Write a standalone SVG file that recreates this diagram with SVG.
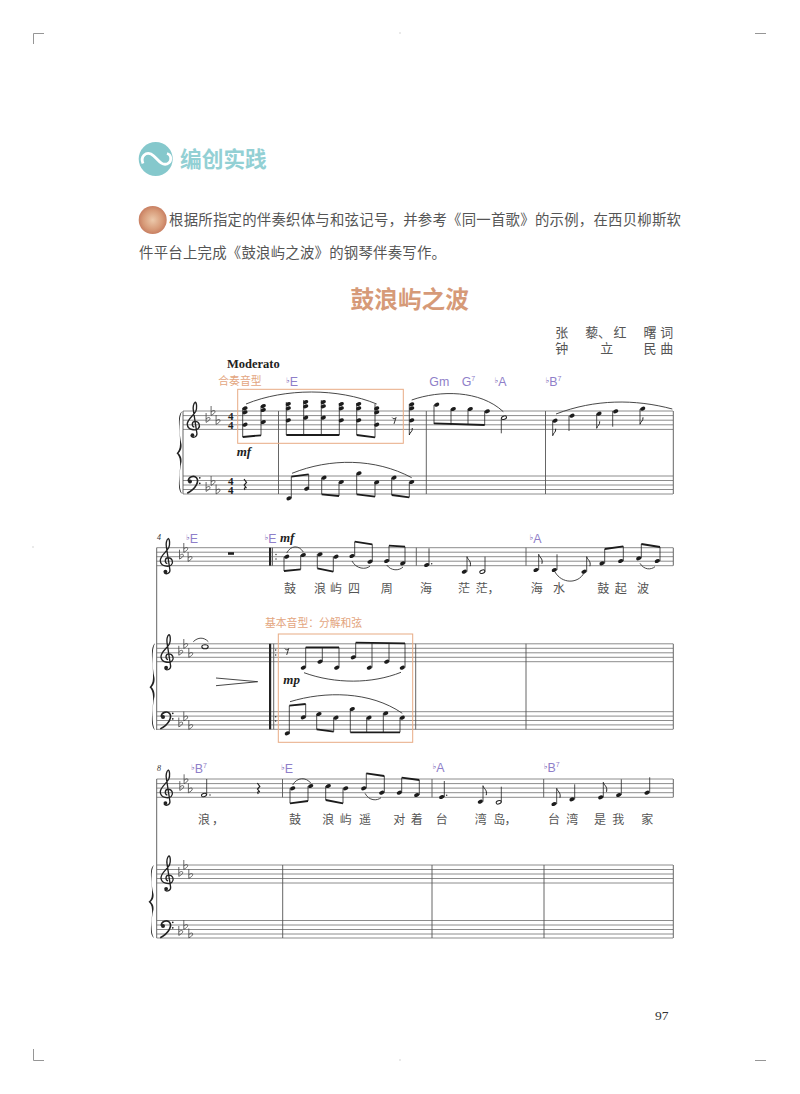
<svg xmlns="http://www.w3.org/2000/svg" width="800" height="1094" viewBox="0 0 800 1094">
<style>
.st{fill:none;stroke:#6e6e6e;stroke-width:.8}
.bar{fill:none;stroke:#555;stroke-width:.9}
.stem{fill:none;stroke:#222;stroke-width:.8}
.beam{fill:none;stroke:#1c1c1c;stroke-width:1.8}
.slur{fill:none;stroke:#333;stroke-width:.9}
.flag{fill:none;stroke:#222;stroke-width:1}
.box{fill:none;stroke:#e8ab84;stroke-width:1}
.crop{fill:none;stroke:#8a8a8a;stroke-width:.9}
.cjk{font-family:"Noto Sans CJK SC",sans-serif}
.lyr{font-family:"Noto Sans CJK SC",sans-serif;font-size:12px;fill:#555}
.lab{font-family:"Noto Sans CJK SC",sans-serif;font-size:10.8px;fill:#e3a57e}
.ch{font-family:"Liberation Sans",sans-serif;font-size:12.4px;fill:#8f7fc9}
.fl{font-family:"DejaVu Sans",sans-serif;font-size:8px;font-weight:bold;fill:#5f4aa8}
.sup{font-size:7px}
.dyn{font-family:"Liberation Serif",serif;font-weight:bold;font-style:italic;font-size:13px;fill:#222}
.ts{font-family:"Liberation Serif",serif;font-weight:bold;font-size:11px;fill:#222;text-anchor:middle}
.num{font-family:"Liberation Serif",serif;font-style:italic;font-size:8px;fill:#333}
</style>
<defs>
<radialGradient id="ball"><stop offset="0" stop-color="#ecc9ab"/><stop offset=".7" stop-color="#d79a78"/><stop offset="1" stop-color="#c87f62"/></radialGradient>
<ellipse id="n" rx="2.7" ry="1.9" transform="rotate(-20)" fill="#1c1c1c"/>
<ellipse id="h" rx="2.6" ry="1.6" transform="rotate(-20)" fill="#fff" stroke="#222" stroke-width="1"/>
<path id="fu" class="flag" d="M0 0C.5 3 4.600 4 3.200 9.500"/>
<path id="fd" class="flag" d="M0 0C.5-3 3.400-3 3-7"/>
<path id="fl" d="M-1.200-7V2.400C1 1.100 2.700 0 2.700-1.400 2.700-3.100.4-2.700-1.200-1" fill="none" stroke="#444" stroke-width=".8"/>
<g id="tc"><g transform="scale(1.12 1.08)"><path d="M.3 2.200C-2.400 1.400-2-3.200 1-3.200 4.600-3.200 6 1 3.800 3.400 1.600 5.600-5.600 5-6-.4-6.200-5-.4-8.400 1.600-12.600 2.800-15.400 2.400-20.600 1.200-21-.6-20-1-16-.6-13.600L2.600 8C3 11-1 13-2.600 10.400" fill="none" stroke="#222" stroke-width="1.200"/><circle cx="-1.400" cy="9.600" r="1.700" fill="#222"/></g></g>
<g id="bc"><g transform="scale(1.25)"><path d="M-4.600.6C-4.600-3.200 0-4.200 2-2.200 4.200.4 2 6.400-5.400 10.200" fill="none" stroke="#222" stroke-width="1.300"/><circle cx="-3.200" cy=".8" r="1.600" fill="#222"/><circle cx="4.600" cy="-2.200" r=".7" fill="#222"/><circle cx="4.600" cy="2.200" r=".7" fill="#222"/></g></g>
<path id="r8" d="M-1.800-3.200C-1-1.400 1-1.400 2-3.200L0 3.200" fill="none" stroke="#222" stroke-width=".9"/>
<path id="r4" d="M-1-6 1.500-2.500-.8 0 1.500 3C0 2-1.500 3 0 5" fill="none" stroke="#222" stroke-width="1.200"/>
<path id="br" d="M5 0C-1 5 4 24 3 36 3 41 1 44-.5 45.500 1 47 3 50 3 55 4 66-1 85 5 90 1.500 84 2 67 4.500 55 5 50 3 47 1.500 45.500 3 44 5 41 4.500 36 2 24 1.500 6 5 0Z" fill="#222"/>
</defs>

<g id="crop-marks">
<path class="crop" d="M44 33.500H33.500V44M755 33.500H766M33.500 1049V1060.500H44M755 1060.500H766"/>
<path class="crop" opacity=".4" d="M400 32V34M33 546V548M400 1059V1061"/>
</g>

<g id="heading">
<circle cx="155.700" cy="159" r="17" fill="#85c8cc"/>
<path d="M143 163.500C140 156 146 152 151 154 157 157 160 166 167 164 172 162 172 155 167 153.500" fill="none" stroke="#fff" stroke-width="2.800"/>
<text class="cjk" x="180" y="167" font-size="21.700" font-weight="700" fill="#93d0d4">编创实践</text>
</g>

<g id="instructions">
<circle cx="152.700" cy="220" r="14" fill="url(#ball)"/>
<text class="cjk" x="169" y="225" font-size="14.400" fill="#555" textLength="512" lengthAdjust="spacing">根据所指定的伴奏织体与和弦记号，并参考《同一首歌》的示例，在西贝柳斯软</text>
<text class="cjk" x="139" y="258" font-size="14.400" fill="#555" textLength="307" lengthAdjust="spacing">件平台上完成《鼓浪屿之波》的钢琴伴奏写作。</text>
</g>

<g id="title">
<text class="cjk" x="350.500" y="307.500" font-size="23.700" font-weight="700" fill="#d69a78">鼓浪屿之波</text>
<text class="lyr" style="font-size:13px" x="555.200 585.200 598 613.500 643.500 660.200" y="336.500">张藜、红曙词<tspan x="555.200 600.200 643.500 660.200" y="353">钟立民曲</tspan></text>
<text x="227" y="367.700" font-family="Liberation Serif,serif" font-weight="bold" font-size="12.500" fill="#222">Moderato</text>
</g>

<g id="system-1">
<path class="st" d="M183 411H673M183 415.600H673M183 420.200H673M183 424.800H673M183 429.400H673M183 476H673M183 480.500H673M183 485H673M183 489.500H673M183 494H673"/>
<path class="bar" d="M183 411V494M278.500 411V494M426.300 411V494M545.500 411V494M673.300 411V494"/>
<use href="#br" transform="translate(177 411.500) scale(1 .915)"/>
<use href="#tc" x="194" y="424.800"/><use href="#bc" x="194" y="480.500"/>
<use href="#fl" x="207.300" y="420"/><use href="#fl" x="212.300" y="413"/><use href="#fl" x="217.300" y="422"/>
<use href="#fl" x="207.300" y="489"/><use href="#fl" x="212.300" y="483"/><use href="#fl" x="217.300" y="491.500"/>
<text class="ts" x="230.700" y="419.500">4<tspan x="230.700" dy="9.300">4</tspan></text>
<text class="ts" x="230.700" y="484.500">4<tspan x="230.700" dy="9">4</tspan></text>
<use href="#r4" x="245" y="485"/>
<g id="s1-notes">
<path class="stem" d="M242.700 408V437M261 406V435.500M286.300 402V435M303.700 400V435M321.300 400V435M339.300 403V435M356.700 403V435M375 404V437.500M409.300 404V435M434 405V424M451 409V425M468 409V425M484.700 411V425M501.300 418V433.300M552.700 421V435.700M569 416V431M596.700 414V428.300M612.700 411V426.700M640 409V424.300M291.300 498V476.700M308.700 488.500V474.300M321.700 478V494.300M339 482V496M356.700 473.500V494.300M375 482V496.700M391.700 478V495M409.300 482V497.300"/>
<path class="beam" d="M242.700 437L261 435.300M286.300 435H339.300M356.700 435L375 437.300M434 423.300L484.700 425M291.300 476.700L308.700 474.300M321.700 494.300L339 496M356.700 494.300L375 496.700M391.700 495L409.300 497.300"/>
<use href="#fd" x="409.300" y="435"/><use href="#fd" x="552.700" y="435.700"/><use href="#fd" x="596.700" y="428.300"/><use href="#fd" x="640" y="424.300"/>
<use href="#n" x="245" y="408.300"/><use href="#n" x="245" y="412.300"/><use href="#n" x="245" y="424.700"/>
<use href="#n" x="263.300" y="406"/><use href="#n" x="263.300" y="410"/><use href="#n" x="263.300" y="422"/>
<use href="#n" x="288.300" y="404"/><use href="#n" x="288.300" y="408.300"/><use href="#n" x="288.300" y="420.300"/>
<use href="#n" x="305.700" y="402"/><use href="#n" x="305.700" y="406.300"/><use href="#n" x="305.700" y="417.700"/>
<use href="#n" x="323.300" y="402"/><use href="#n" x="323.300" y="406.300"/><use href="#n" x="323.300" y="417.700"/>
<use href="#n" x="341.300" y="404"/><use href="#n" x="341.300" y="408.300"/><use href="#n" x="341.300" y="420.300"/>
<use href="#n" x="358.700" y="404"/><use href="#n" x="358.700" y="408.300"/><use href="#n" x="358.700" y="420.300"/>
<use href="#n" x="376.700" y="408.300"/><use href="#n" x="376.700" y="412.300"/><use href="#n" x="376.700" y="424.700"/>
<use href="#r8" x="394" y="420.700"/>
<use href="#n" x="411.700" y="404.300"/><use href="#n" x="411.700" y="408.300"/><use href="#n" x="411.700" y="420.300"/>
<use href="#n" x="436.700" y="404.700"/><use href="#n" x="453.300" y="409"/><use href="#n" x="470.300" y="409"/><use href="#n" x="487.300" y="411.300"/>
<use href="#h" x="504" y="417.700"/>
<use href="#n" x="555" y="420.700"/><use href="#n" x="572" y="415.700"/><use href="#n" x="599" y="413.700"/><use href="#n" x="615.700" y="411.300"/><use href="#n" x="642.700" y="408.700"/>
<use href="#n" x="289" y="498.300"/><use href="#n" x="306.700" y="488.700"/><use href="#n" x="324" y="477.700"/><use href="#n" x="341.300" y="482"/><use href="#n" x="359" y="473.300"/><use href="#n" x="376.700" y="482.300"/><use href="#n" x="394" y="477.700"/><use href="#n" x="411.700" y="482"/>
</g>
<path class="slur" d="M246 404C285 388 338 388 376.700 404M411.700 400C440 390 480 390 503.300 411.700M556 414C595 399 635 399 672.300 409M292 473.300C330 458 375 458 411.700 477.700"/>
<text class="dyn" x="236.700" y="456">mf</text>
</g>

<g id="chords-1">
<text class="lab" x="218.300" y="385">合奏音型</text>
<text class="ch" x="286" y="385.700"><tspan class="fl" dy="-3">♭</tspan><tspan dy="3">E</tspan></text>
<text class="ch" x="429.300" y="385.700">Gm</text>
<text class="ch" x="461.700" y="385.700">G<tspan class="sup" dy="-5">7</tspan></text>
<text class="ch" x="494.500" y="385.700"><tspan class="fl" dy="-3">♭</tspan><tspan dy="3">A</tspan></text>
<text class="ch" x="545.500" y="385.700"><tspan class="fl" dy="-3">♭</tspan><tspan dy="3">B</tspan><tspan class="sup" dy="-5">7</tspan></text>
<rect class="box" x="237.700" y="389.300" width="165.600" height="54"/>
</g>

<g id="system-2-vocal">
<path class="st" d="M156.700 547.700H673M156.700 552.200H673M156.700 556.700H673M156.700 561.200H673M156.700 565.700H673"/>
<path class="bar" d="M156.700 547.700V730M272.500 547.700V565.700M416.300 547.700V565.700M526 547.700V565.700M673.300 547.700V565.700"/>
<rect x="269" y="547.700" width="2.200" height="18" fill="#222"/>
<circle cx="276" cy="554.500" r=".7" fill="#222"/><circle cx="276" cy="559" r=".7" fill="#222"/>
<text class="num" x="157" y="540">4</text>
<use href="#tc" x="167" y="561.200"/>
<use href="#fl" x="180.700" y="556.700"/><use href="#fl" x="185" y="550"/><use href="#fl" x="189.300" y="559"/>
<rect x="228" y="552.200" width="6" height="2.600" fill="#222"/>
<text class="ch" x="186" y="543.300"><tspan class="fl" dy="-3">♭</tspan><tspan dy="3">E</tspan></text>
<text class="ch" x="264.500" y="543.300"><tspan class="fl" dy="-3">♭</tspan><tspan dy="3">E</tspan></text>
<text class="ch" x="529.500" y="543.300"><tspan class="fl" dy="-3">♭</tspan><tspan dy="3">A</tspan></text>
<text class="dyn" x="280" y="542">mf</text>
<path class="stem" d="M284 557V571M300.700 555V569.300M317.300 554V568.300M333.300 557V571.700M354.700 556V541.700M372.300 561.700V544.300M389 561V545.700M405 563.300V546.700M429 565V548.300M467 571.700V556.700M485 571.700V556.700M538.700 570V554.300M557 570V554.300M586.700 571.700V556.700M604.700 563.300V549M623.300 561V546.300M641.300 558.300V544M660 561V547"/>
<path class="beam" d="M284 571L300.700 569.300M317.300 568.300L333.300 571.700M354.700 541.700L372.300 544.300M389 545.700L405 546.700M604.700 549L623.300 546.300M641.300 544L660 547"/>
<use href="#fu" x="467" y="556.700"/><use href="#fu" x="538.700" y="554.300"/><use href="#fu" x="586.700" y="556.700"/>
<use href="#n" x="286.700" y="556.700"/><use href="#n" x="303.300" y="555"/><use href="#n" x="320" y="554.300"/><use href="#n" x="336" y="556.700"/><use href="#n" x="352" y="556"/><use href="#n" x="370" y="561.700"/><use href="#n" x="386.700" y="561"/><use href="#n" x="402.700" y="563.300"/><use href="#n" x="426.700" y="565"/>
<circle cx="431.700" cy="563.700" r=".7" fill="#222"/>
<use href="#n" x="464.300" y="571.700"/><use href="#h" x="482.300" y="571.700"/><use href="#n" x="536" y="570"/><use href="#n" x="554.300" y="570"/><use href="#n" x="584" y="571.700"/><use href="#n" x="602" y="563.300"/><use href="#n" x="620.700" y="561"/><use href="#n" x="638.700" y="558.300"/><use href="#n" x="657.300" y="561"/>
<path class="slur" d="M286.700 553C291 545 299 545 303.300 552M352 561C356 569 366 570 370 566M386.700 565C391 571 399 571 403 567M555 572C562 584 578 584 584 573M640 563.300C644 570 651 570 655 566.700"/>
<text class="lyr" x="284 314 330 348 380.700 420 458 475.700 487.500 530.700 553 597.300 614.700 637" y="593">鼓浪屿四周海茫茫，海水鼓起波</text>
<text class="lab" x="265" y="626.700">基本音型：分解和弦</text>
</g>

<g id="system-2-piano">
<path class="st" d="M156.700 643.800H673M156.700 648.300H673M156.700 652.800H673M156.700 657.300H673M156.700 661.700H673M156.700 711.700H673M156.700 716.100H673M156.700 720.500H673M156.700 724.900H673M156.700 729.300H673"/>
<path class="bar" d="M273.700 643.800V729.300M415.700 643.800V729.300M526 643.800V729.300M673.300 643.800V729.300"/>
<rect x="269" y="643.800" width="2.200" height="85.500" fill="#222"/>
<use href="#br" transform="translate(150 643.300) scale(1 .965)"/>
<use href="#tc" x="167.700" y="657.300"/><use href="#bc" x="167" y="716.100"/>
<use href="#fl" x="180" y="652.800"/><use href="#fl" x="185" y="646"/><use href="#fl" x="190" y="655"/>
<use href="#fl" x="180" y="724.500"/><use href="#fl" x="185" y="718.500"/><use href="#fl" x="190" y="727"/>
<circle cx="275.700" cy="650" r=".7" fill="#222"/><circle cx="275.700" cy="655" r=".7" fill="#222"/><circle cx="275.700" cy="716.700" r=".7" fill="#222"/><circle cx="275.700" cy="721" r=".7" fill="#222"/>
<ellipse cx="205" cy="646.700" rx="3.200" ry="2" fill="none" stroke="#222" stroke-width="1.100"/>
<path class="slur" d="M193.300 641.700C198 637 204 637 208.300 641.700M216 678L257.700 681.700 216 685.700"/>
<use href="#r8" x="286.700" y="651.700"/>
<path class="stem" d="M305.700 667.700V647.300M322.300 661.700V647.300M339 667.700V647.300M355.700 657.300V642.700M372 667.700V642.700M389 661.700V643M405 667.700V643.300M289.300 733.300V705.700M305.700 717.300V704M316.700 714V729.300M333.700 717.700V731.700M350.300 709V732.300M366.700 717.700V732.300M383.300 713.300V732.300M400 717.700V732.300"/>
<path class="beam" d="M305.700 647.300H339M355.700 642.700L405 643.300M289.300 705.700L305.700 704M316.700 729.300L333.700 731.700M350.300 732.300H400"/>
<use href="#n" x="303.300" y="667.700"/><use href="#n" x="320" y="661.700"/><use href="#n" x="336.700" y="667.700"/><use href="#n" x="353.300" y="657.300"/><use href="#n" x="369.300" y="667.700"/><use href="#n" x="386.700" y="661.700"/><use href="#n" x="402.300" y="667.700"/>
<use href="#n" x="287.300" y="733.300"/><use href="#n" x="303.300" y="717.300"/><use href="#n" x="319" y="714"/><use href="#n" x="336" y="717.700"/><use href="#n" x="352.300" y="709"/><use href="#n" x="369" y="717.700"/><use href="#n" x="385.700" y="713.300"/><use href="#n" x="402.300" y="717.700"/>
<path class="slur" d="M304 672.700C335 684 372 684 401 672.300M290 701.700C325 691 370 691 402.300 713.300"/>
<text class="dyn" x="283.300" y="684">mp</text>
<rect class="box" x="278.300" y="634" width="134.400" height="108.300"/>
</g>

<g id="system-3-vocal">
<path class="st" d="M156.700 779H673M156.700 783.600H673M156.700 788.100H673M156.700 792.700H673M156.700 797.300H673"/>
<path class="bar" d="M156.700 779V938M282.500 779V797.300M432 779V797.300M543.700 779V797.300M673.300 779V797.300"/>
<text class="num" x="157" y="771">8</text>
<use href="#tc" x="167" y="792.700"/>
<use href="#fl" x="181" y="788.100"/><use href="#fl" x="185.300" y="781.300"/><use href="#fl" x="189.600" y="790.400"/>
<text class="ch" x="191" y="772.700"><tspan class="fl" dy="-3">♭</tspan><tspan dy="3">B</tspan><tspan class="sup" dy="-5">7</tspan></text>
<text class="ch" x="281" y="772.700"><tspan class="fl" dy="-3">♭</tspan><tspan dy="3">E</tspan></text>
<text class="ch" x="432.500" y="772.300"><tspan class="fl" dy="-3">♭</tspan><tspan dy="3">A</tspan></text>
<text class="ch" x="543.800" y="772.300"><tspan class="fl" dy="-3">♭</tspan><tspan dy="3">B</tspan><tspan class="sup" dy="-5">7</tspan></text>
<use href="#r4" x="258.300" y="789"/>
<path class="stem" d="M206.700 795V779M290 788.300V803.300M308 786V801M325.700 786V800M343 788.300V803.300M366.300 788.300V773.300M384.300 792.700V776M401.700 792.700V777.700M419.300 795V780M444.300 797V781M483 801.700V785.700M501.300 802.300V786.700M556.700 804V788.300M574.700 799.300V784.300M603.300 797.300V782.300M621.300 795V779.300M649.700 792.700V777.300"/>
<path class="beam" d="M290 803.300L308 801M325.700 800L343 803.300M366.300 773.300L384.300 776M401.700 777.700L419.300 780"/>
<use href="#fu" x="483" y="785.700"/><use href="#fu" x="556.700" y="788.300"/><use href="#fu" x="603.300" y="782.300"/>
<use href="#h" x="204" y="795"/><circle cx="210" cy="795" r=".7" fill="#222"/>
<use href="#n" x="292.700" y="788.300"/><use href="#n" x="310.700" y="786"/><use href="#n" x="328.300" y="786"/><use href="#n" x="345.700" y="788.300"/><use href="#n" x="363.700" y="788.300"/><use href="#n" x="381.700" y="792.700"/><use href="#n" x="399.300" y="792.700"/><use href="#n" x="416.700" y="795"/><use href="#n" x="441.700" y="797"/>
<circle cx="446.700" cy="795.300" r=".7" fill="#222"/>
<use href="#n" x="480.300" y="801.700"/><use href="#h" x="498.700" y="802.300"/><use href="#n" x="554" y="804"/><use href="#n" x="572" y="799.300"/><use href="#n" x="600.700" y="797.300"/><use href="#n" x="618.700" y="795"/><use href="#n" x="647" y="792.700"/>
<path class="slur" d="M292.700 785C297 777 306 777 310.700 783M365 793.300C369 801 377 801 381 797.700"/>
<text class="lyr" x="198 212 289 322.300 339.700 359 393.300 410.700 435.700 474.700 493.300 504.500 548 566.300 594 612.300 641.300" y="824">浪，鼓浪屿遥对着台湾岛，台湾是我家</text>
</g>

<g id="system-3-piano">
<path class="st" d="M156.700 865H673M156.700 869.500H673M156.700 874H673M156.700 878.500H673M156.700 883H673M156.700 920.500H673M156.700 925H673M156.700 929.500H673M156.700 934H673M156.700 938H673"/>
<path class="bar" d="M282.700 865V938M432 865V938M544 865V938M673.300 865V938"/>
<use href="#br" transform="translate(149 865) scale(1 .81)"/>
<use href="#tc" x="167.700" y="878.500"/><use href="#bc" x="167" y="925"/>
<use href="#fl" x="180" y="874"/><use href="#fl" x="185" y="867"/><use href="#fl" x="190" y="876"/>
<use href="#fl" x="180" y="933"/><use href="#fl" x="185" y="927"/><use href="#fl" x="190" y="935.500"/>
</g>

<text id="page-number" x="655" y="1020" font-family="Liberation Serif,serif" font-size="13.500" fill="#333">97</text>
</svg>
